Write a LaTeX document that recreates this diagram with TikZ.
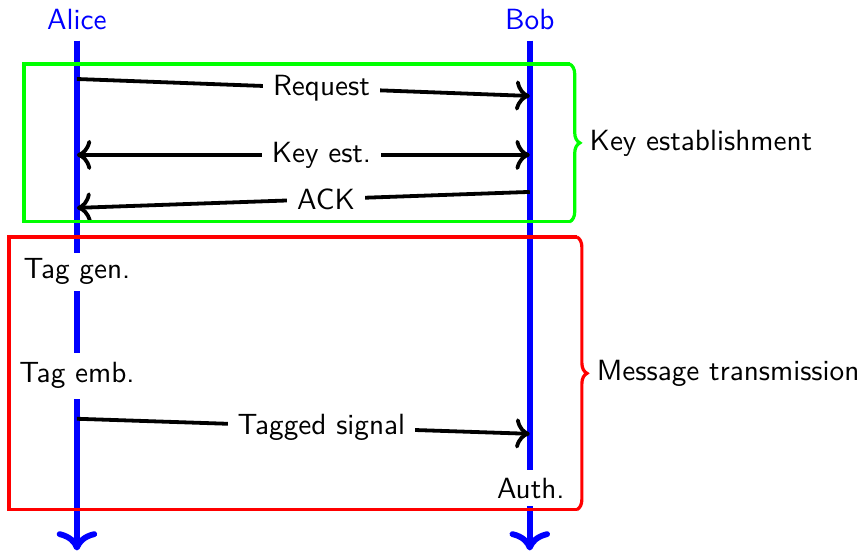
\documentclass[tikz,border=0pt]{standalone}
\usepackage{tikz}
\usetikzlibrary{arrows.meta,decorations.pathreplacing}
\renewcommand{\familydefault}{\sfdefault}
\tikzset{>={To[scale=1.1]},
  lifeline/.style={draw=blue, line width=2pt, ->},
  msg/.style={line width=1.3pt, ->},
  lbl/.style={fill=white, pos=0.54},
  phase/.style={line width=1.1pt, decorate, decoration={brace, amplitude=3.5pt}}}

\begin{document}
\begin{tikzpicture}
\useasboundingbox (0,0) rectangle (10.33,-6.67);
% parties
\node[text=blue] (alice) at (0.925,-0.24) {Alice};
\node[text=blue] (bob) at (6.371,-0.24) {Bob};
\coordinate (aend) at (0.925,-6.62);
\coordinate (bend) at (6.371,-6.62);
\draw[lifeline] (alice) -- (aend);
\draw[lifeline] (bob) -- (bend);
% messages
\coordinate (a1) at (0.925,-0.950);
\coordinate (b1) at (6.371,-1.154);
\coordinate (a2) at (0.925,-1.863);
\coordinate (b2) at (6.371,-1.863);
\coordinate (a3) at (0.925,-2.500);
\coordinate (b3) at (6.371,-2.308);
\coordinate (a4) at (0.925,-5.036);
\coordinate (b4) at (6.371,-5.217);
\draw[msg] (a1) -- (b1) node[lbl] (req) {Request};
\draw[msg, <->] (a2) -- (b2) node[lbl] (kest) {Key est.};
\draw[msg] (b3) -- (a3) node[lbl, pos=0.45] (ack) {ACK};
\draw[msg] (a4) -- (b4) node[lbl] (sig) {Tagged signal};
% local steps
\node[fill=white, inner ysep=2pt] (taggen) at (0.925,-3.27) {Tag gen.};
\node[fill=white] (tagemb) at (0.925,-4.52) {Tag emb.};
\node[fill=white, inner ysep=2.6pt] (auth) at (6.383,-5.87) {Auth.};
% phases
\draw[draw=green, line width=1.1pt] (6.85,-0.769) -- (0.288,-0.769) -- (0.288,-2.668) -- (6.85,-2.668);
\draw[draw=green, phase] (6.85,-0.769) -- (6.85,-2.668) node[midway, right=3pt] (keyph) {Key establishment};
\draw[draw=red, line width=1.1pt] (6.936,-2.849) -- (0.108,-2.849) -- (0.108,-6.13) -- (6.936,-6.13);
\draw[draw=red, phase] (6.936,-2.849) -- (6.936,-6.13) node[midway, right=3pt] (msgph) {Message transmission};
\end{tikzpicture}
\end{document}
